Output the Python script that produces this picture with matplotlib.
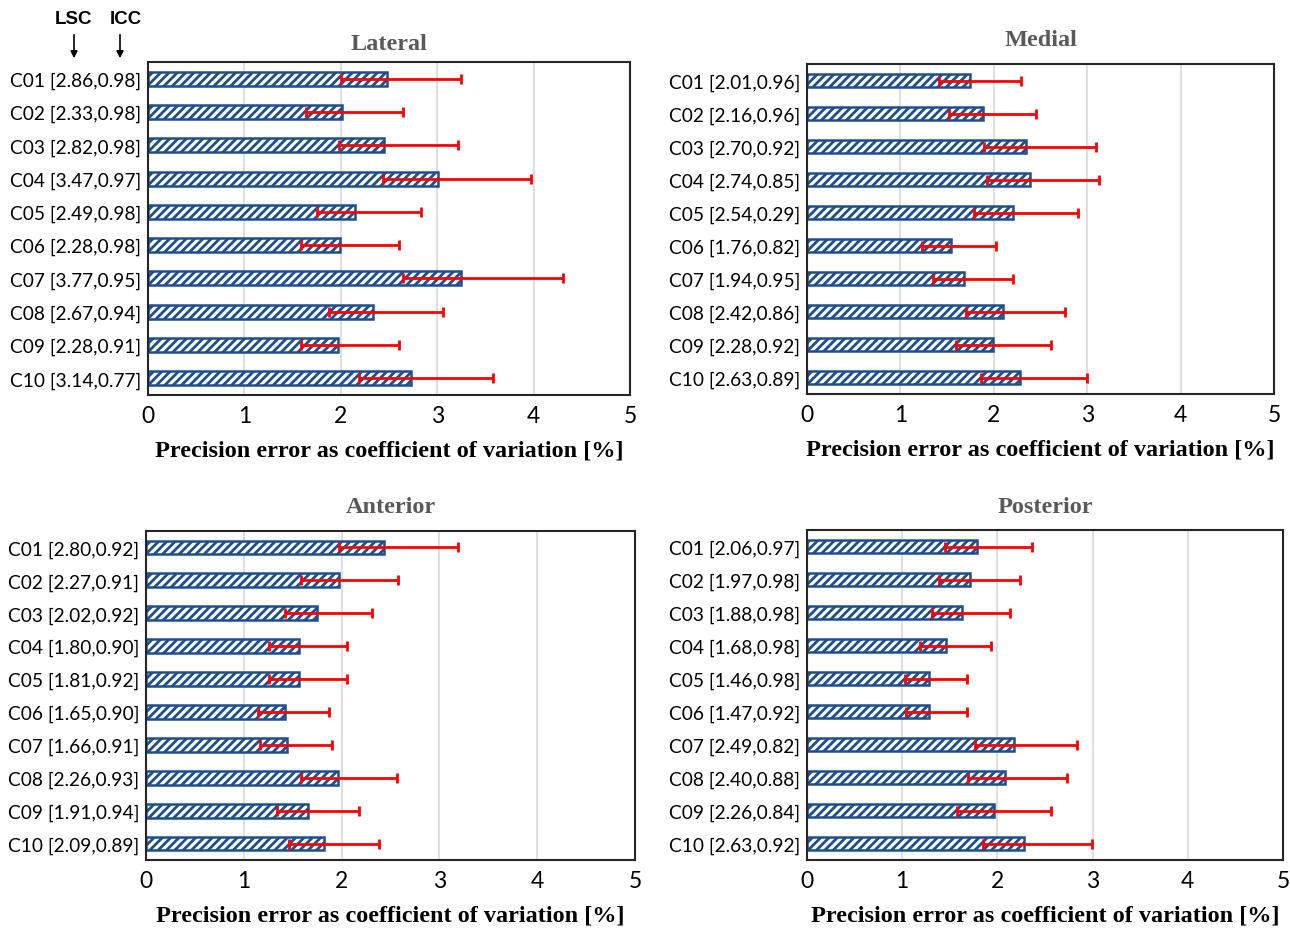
import matplotlib
matplotlib.use("Agg")
import matplotlib.pyplot as plt
import numpy as np

plt.rcParams['hatch.linewidth'] = 2.0

# ---- data ----
codes = ["C01", "C02", "C03", "C04", "C05", "C06", "C07", "C08", "C09", "C10"]

lat_lsc_icc = ["[2.86,0.98]", "[2.33,0.98]", "[2.82,0.98]", "[3.47,0.97]", "[2.49,0.98]",
               "[2.28,0.98]", "[3.77,0.95]", "[2.67,0.94]", "[2.28,0.91]", "[3.14,0.77]"]
lat_val = [2.48, 2.01, 2.45, 3.01, 2.15, 1.99, 3.25, 2.33, 1.97, 2.73]
lat_lo = [2.00, 1.64, 1.98, 2.44, 1.75, 1.59, 2.65, 1.88, 1.59, 2.19]
lat_hi = [3.25, 2.65, 3.22, 3.97, 2.83, 2.60, 4.30, 3.06, 2.60, 3.58]

med_lsc_icc = ["[2.01,0.96]", "[2.16,0.96]", "[2.70,0.92]", "[2.74,0.85]", "[2.54,0.29]",
               "[1.76,0.82]", "[1.94,0.95]", "[2.42,0.86]", "[2.28,0.92]", "[2.63,0.89]"]
med_val = [1.75, 1.88, 2.35, 2.39, 2.21, 1.54, 1.68, 2.10, 1.99, 2.28]
med_lo = [1.41, 1.52, 1.90, 1.93, 1.79, 1.23, 1.35, 1.70, 1.60, 1.86]
med_hi = [2.29, 2.45, 3.09, 3.13, 2.90, 2.02, 2.21, 2.76, 2.61, 3.00]

ant_lsc_icc = ["[2.80,0.92]", "[2.27,0.91]", "[2.02,0.92]", "[1.80,0.90]", "[1.81,0.92]",
               "[1.65,0.90]", "[1.66,0.91]", "[2.26,0.93]", "[1.91,0.94]", "[2.09,0.89]"]
ant_val = [2.43, 1.97, 1.75, 1.56, 1.56, 1.42, 1.44, 1.96, 1.66, 1.82]
ant_lo = [1.97, 1.58, 1.42, 1.26, 1.26, 1.15, 1.17, 1.58, 1.34, 1.46]
ant_hi = [3.19, 2.58, 2.31, 2.06, 2.06, 1.87, 1.90, 2.57, 2.18, 2.38]

pos_lsc_icc = ["[2.06,0.97]", "[1.97,0.98]", "[1.88,0.98]", "[1.68,0.98]", "[1.46,0.98]",
               "[1.47,0.92]", "[2.49,0.82]", "[2.40,0.88]", "[2.26,0.84]", "[2.63,0.92]"]
pos_val = [1.79, 1.71, 1.63, 1.46, 1.28, 1.28, 2.17, 2.08, 1.96, 2.28]
pos_lo = [1.45, 1.39, 1.31, 1.19, 1.03, 1.04, 1.76, 1.69, 1.58, 1.85]
pos_hi = [2.36, 2.24, 2.13, 1.93, 1.68, 1.68, 2.84, 2.73, 2.56, 2.99]

titles = ["Lateral", "Medial", "Anterior", "Posterior"]
xticks = [0, 1, 2, 3, 4, 5]
xlabel = "Precision error as coefficient of variation [%]"

W, H = 1290, 929
fig = plt.figure(figsize=(W / 100, H / 100), dpi=100)

# axes boxes in pixels: left, top, right, bottom
boxes = [(148, 63, 630, 396), (807, 65, 1274, 395), (146, 532, 635, 861), (807, 531, 1283, 861)]
title_pads = [9, 14, 14, 13]
panels = [
    (lat_lsc_icc, lat_val, lat_lo, lat_hi),
    (med_lsc_icc, med_val, med_lo, med_hi),
    (ant_lsc_icc, ant_val, ant_lo, ant_hi),
    (pos_lsc_icc, pos_val, pos_lo, pos_hi),
]

label_font = ["Lato", "DejaVu Sans"]
serif = "Liberation Serif"

for (l, t, r, b), title, tpad, (lab, val, lo, hi) in zip(boxes, titles, title_pads, panels):
    ax = fig.add_axes([l / W, 1 - b / H, (r - l) / W, (b - t) / H])
    y = np.arange(len(codes))
    val = np.array(val)
    xerr = [val - np.array(lo), np.array(hi) - val]
    ax.barh(y, val, height=0.42, color="white", edgecolor="#1F4E8C",
            hatch="////", linewidth=1.8, zorder=2)
    ax.errorbar(val, y, xerr=xerr, fmt="none", ecolor="#FF0000",
                elinewidth=2.0, capsize=3.5, capthick=2.0, zorder=3)
    ax.set_xlim(0, 5)
    ax.set_ylim(9.5, -0.5)
    ax.set_xticks(xticks)
    ax.set_xticklabels([str(v) for v in xticks], fontsize=16.5, family=label_font)
    ax.set_yticks(y)
    ax.set_yticklabels([f"{c} {s}" for c, s in zip(codes, lab)], fontsize=13.8,
                       family=label_font)
    ax.tick_params(axis="both", length=0, pad=5)
    ax.tick_params(axis="x", pad=7)
    ax.grid(axis="x", color="#D9D9D9", linewidth=1.2, zorder=0)
    ax.set_axisbelow(True)
    for sp in ax.spines.values():
        sp.set_linewidth(1.5)
        sp.set_color("#262626")
    ax.set_title(title, fontsize=17.5, fontweight="bold", color="#595959",
                 family=serif, pad=tpad)
    ax.set_xlabel(xlabel, fontsize=17.5, fontweight="bold", family=serif,
                  labelpad=10, color="black")

# LSC / ICC annotations
fig.text(74 / W, 1 - 19 / H, "LSC", ha="center", va="center", fontsize=13.5,
         fontweight="bold", family="Liberation Sans")
fig.text(126 / W, 1 - 19 / H, "ICC", ha="center", va="center", fontsize=13.5,
         fontweight="bold", family="Liberation Sans")
for xa in (74, 120):
    fig.add_artist(matplotlib.patches.FancyArrowPatch(
        (xa / W, 1 - 33 / H), (xa / W, 1 - 62 / H), transform=fig.transFigure,
        arrowstyle="-|>", mutation_scale=10, color="black", linewidth=1.2))

fig.savefig("out.png", dpi=100, facecolor="white")
